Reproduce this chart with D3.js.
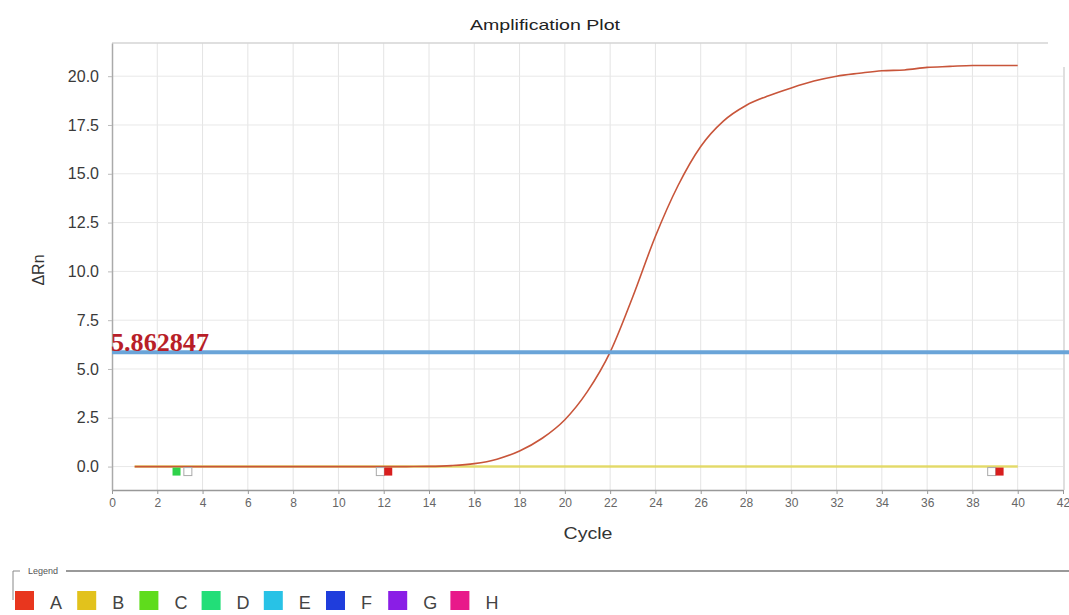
<!DOCTYPE html>
<html>
<head>
<meta charset="utf-8">
<script src="https://cdn.jsdelivr.net/npm/d3@7"></script>
<style>
  body { margin: 0; background: #fff; }
  svg { font-family: "Liberation Sans", Arial, sans-serif; }
</style>
</head>
<body>
<div id="chart"></div>
<script>
// cycle numbers and delta Rn
const cycles = [1,2,3,4,5,6,7,8,9,10,11,12,13,14,15,16,17,18,19,20,21,22,23,24,25,26,27,28,29,30,31,32,33,34,35,36,37,38,39,40];
const wellA = [0,0,0,0,0,0,0,0,0,0,0,0,0,0.01,0.05,0.15,0.38,0.8,1.45,2.4,3.85,5.86,8.7,11.8,14.4,16.4,17.7,18.5,19.0,19.4,19.75,20.0,20.15,20.28,20.32,20.45,20.5,20.55,20.55,20.55];
const wellB = [0,0,0,0,0,0,0,0,0,0,0,0,0,0,0,0,0,0,0,0,0,0,0,0,0,0,0,0,0,0,0,0,0,0,0,0,0,0,0,0];
const threshold = 5.862847;
// baseline start / end markers
const markers = [
    {cycle: 2.85, color: "#2fd24a", box: 3.35},
    {cycle: 12.2, color: "#d81e1e", box: 11.85},
    {cycle: 39.2, color: "#d81e1e", box: 38.85}
];
const yTicks = [0, 2.5, 5, 7.5, 10, 12.5, 15, 17.5, 20];
const xTicks = d3.range(0, 43, 2);
const legendNames = ["A","B","C","D","E","F","G","H"];
const legendColors = ["#e8361e","#e2c21c","#5fdc1c","#22de78","#28c2e6","#1f3ddc","#8a1ee6","#e8198a"];

const W = 1069, H = 615;
const svg = d3.select("#chart").append("svg").attr("width", W).attr("height", H);

const x = d3.scaleLinear().domain([0, 42]).range([112, 1063]);
const y = d3.scaleLinear().domain([-1.2, 21.7]).range([490, 43]);

// title
svg.append("text").attr("x", 545).attr("y", 30).attr("text-anchor", "middle")
    .attr("font-size", 15).attr("fill", "#222")
    .attr("textLength", 150).attr("lengthAdjust", "spacingAndGlyphs").text("Amplification Plot");

// grid
svg.append("g").selectAll("line").data(xTicks.slice(1, -1)).enter().append("line")
    .attr("x1", d => x(d)).attr("x2", d => x(d)).attr("y1", 43).attr("y2", 490)
    .attr("stroke", "#e4e4e4").attr("stroke-width", 1);
svg.append("g").selectAll("line").data(yTicks).enter().append("line")
    .attr("x1", 112).attr("x2", 1063).attr("y1", d => y(d)).attr("y2", d => y(d))
    .attr("stroke", "#e8e8e8").attr("stroke-width", 1);

// frame
svg.append("line").attr("x1", 112).attr("x2", 1048).attr("y1", 43).attr("y2", 43)
    .attr("stroke", "#d4d4d4").attr("stroke-width", 1.5);
svg.append("line").attr("x1", 1064).attr("x2", 1064).attr("y1", 67).attr("y2", 490)
    .attr("stroke", "#d4d4d4").attr("stroke-width", 1.5);

// axes
const xAxis = d3.axisBottom(x).tickValues(xTicks).tickSize(4).tickSizeOuter(0);
const gx = svg.append("g").attr("transform", "translate(0,490)").call(xAxis);
gx.select(".domain").attr("stroke", "#999").attr("stroke-width", 1.5);
gx.selectAll(".tick line").attr("stroke", "#999");
gx.selectAll(".tick text").attr("font-size", 12).attr("fill", "#666").attr("dy", "0.85em");

const yAxis = d3.axisLeft(y).tickValues(yTicks).tickFormat(d3.format(".1f")).tickSize(4).tickSizeOuter(0);
const gy = svg.append("g").attr("transform", "translate(112,0)").call(yAxis);
gy.select(".domain").attr("stroke", "#aaa").attr("stroke-width", 1.5);
gy.selectAll(".tick line").attr("stroke", "#bbb");
gy.selectAll(".tick text").attr("font-size", 16).attr("fill", "#3a3a3a").attr("x", -13);

svg.append("text").attr("x", 588).attr("y", 539).attr("text-anchor", "middle")
    .attr("font-size", 17).attr("fill", "#333")
    .attr("textLength", 49).attr("lengthAdjust", "spacingAndGlyphs").text("Cycle");
svg.append("text").attr("transform", "translate(44,270) rotate(-90)").attr("text-anchor", "middle")
    .attr("font-size", 16).attr("fill", "#333").text("ΔRn");

// amplification curves
const line = d3.line().x((d, i) => x(cycles[i])).y(d => y(d)).curve(d3.curveMonotoneX);
svg.append("path").datum(wellB).attr("d", line).attr("fill", "none")
    .attr("stroke", "#e0d44a").attr("stroke-width", 2.5).attr("opacity", 0.8);
svg.append("path").datum(wellA).attr("d", line).attr("fill", "none")
    .attr("stroke", "#c8553a").attr("stroke-width", 1.6);

// threshold
svg.append("line").attr("x1", 112).attr("x2", W).attr("y1", y(threshold)).attr("y2", y(threshold))
    .attr("stroke", "#6aa4d8").attr("stroke-width", 4);
svg.append("text").attr("x", 111).attr("y", y(threshold) - 1)
    .style("font-family", "'Liberation Serif', 'Times New Roman', serif")
    .attr("font-size", 25).attr("font-weight", "bold").attr("fill", "#b81e28")
    .attr("textLength", 98).attr("lengthAdjust", "spacingAndGlyphs")
    .text(d3.format(".6f")(threshold));

// baseline markers
const mk = svg.append("g");
markers.forEach(m => {
    mk.append("rect").attr("x", x(m.box) - 4).attr("y", y(0) + 1).attr("width", 8).attr("height", 8)
        .attr("fill", "#fff").attr("stroke", "#aaa").attr("stroke-width", 1);
    mk.append("rect").attr("x", x(m.cycle) - 4).attr("y", y(0) + 1).attr("width", 8).attr("height", 8)
        .attr("fill", m.color);
});

// legend box
svg.append("line").attr("x1", 66).attr("x2", W).attr("y1", 571).attr("y2", 571)
    .attr("stroke", "#777").attr("stroke-width", 1.5);
svg.append("path").attr("d", "M20,571 L13,571 L13,600").attr("fill", "none")
    .attr("stroke", "#888").attr("stroke-width", 1);
svg.append("text").attr("x", 28).attr("y", 574).attr("font-size", 9).attr("fill", "#555").text("Legend");

const lg = svg.append("g").selectAll("g").data(legendNames).enter().append("g")
    .attr("transform", (d, i) => `translate(${15 + i * 62.2},591)`);
lg.append("rect").attr("width", 19).attr("height", 19).attr("fill", (d, i) => legendColors[i]);
lg.append("text").attr("x", 35).attr("y", 18).attr("font-size", 18).attr("fill", "#444").text(d => d);
</script>
</body>
</html>
